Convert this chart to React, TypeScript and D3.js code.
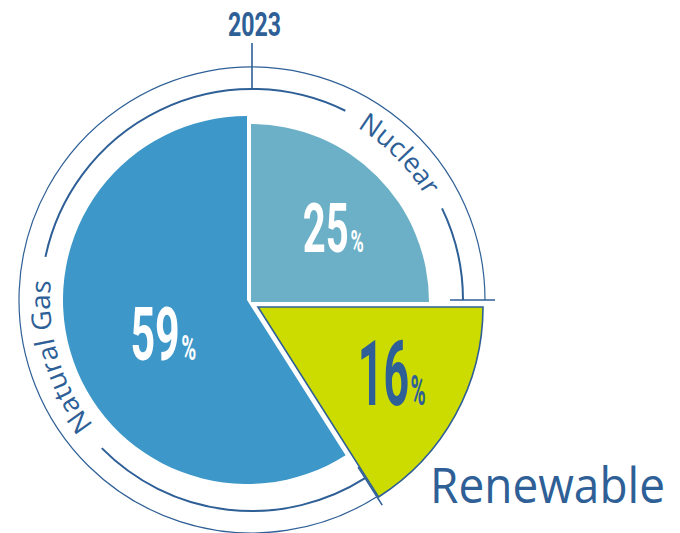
// App.tsx
// @ts-nocheck
import * as d3 from "d3";
import React from "react";

const categories = ["Nuclear", "Renewable", "Natural Gas"];
const shares = [25, 16, 59];
const yearLabel = "2023";

const W = 680;
const H = 533;
const DARK = "#2e5f96";
const C = { x: 249, y: 301 }; // pie centre
const RC = { x: 252, y: 300 }; // ring centre
const R_IN = 211;
const R_OUT = 233;
const deg = Math.PI / 180;

// per-slice look (radius, explode offset, label placement)
const sliceStyle = {
  Nuclear: { fill: "#6bb0c7", r: 178, off: [2, 1], lr: 111, da: 2.9, size: 69, gw: 61, pct: 31, color: "#fff" },
  Renewable: { fill: "#cddc00", r: 225, off: [9, 6], stroke: DARK, lr: 149, da: -2.7, size: 91, gw: 68, pct: 42, color: DARK },
  "Natural Gas": { fill: "#3d97c9", r: 184, off: [-2, -1], lr: 90, da: -5.5, size: 74, gw: 66, pct: 35, color: "#fff" },
};

// curved labels in the ring: centre angle and half gap
const ringLabels = [
  { name: categories[0], mid: 45.25 * deg, half: 19 * deg, len: 98 },
  { name: categories[2], mid: 253.6 * deg, half: 28.2 * deg, len: 154 },
];

const polar = (cx, cy, r, a) => [cx + r * Math.sin(a), cy - r * Math.cos(a)];

function arcPath(r, a0, a1) {
  const p = d3.path();
  p.arc(RC.x, RC.y, r, a0 - Math.PI / 2, a1 - Math.PI / 2, false);
  return p.toString();
}

export default function App() {
  const pie = d3.pie<number>().sort(null).startAngle(0).endAngle(2 * Math.PI)(shares);
  const arc = d3.arc();

  const bNucRen = pie[0].endAngle;
  const bRenGas = pie[1].endAngle;
  const nuc = ringLabels[0];
  const gas = ringLabels[1];

  const innerSegs = [
    [bRenGas, gas.mid - gas.half],
    [gas.mid + gas.half, 2 * Math.PI + nuc.mid - nuc.half],
    [nuc.mid + nuc.half, bNucRen],
  ];

  const ticks = [
    { a: 0, r0: R_IN, r1: 257 },
    { a: bNucRen, r0: 198, r1: 243 },
    { a: bRenGas, r0: 198, r1: 243 },
  ];

  const rb = 202; // baseline radius of the curved labels

  return (
    <svg width={W} height={H} style={{ position: "absolute", left: 0, top: 0, display: "block" }}>
      <rect width={W} height={H} fill="#fff" />
      <defs>
        {ringLabels.map((l, i) => (
          <path key={i} id={`ring-lbl-${i}`} d={arcPath(rb, l.mid - 40 * deg, l.mid + 40 * deg)} fill="none" />
        ))}
      </defs>

      {/* rings */}
      <path d={arcPath(R_OUT, bRenGas, 2 * Math.PI + bNucRen)} fill="none" stroke={DARK} strokeWidth={1.2} />
      {innerSegs.map((s, i) => (
        <path key={i} d={arcPath(R_IN, s[0], s[1])} fill="none" stroke={DARK} strokeWidth={2} />
      ))}

      {/* slices */}
      {pie.map((d, i) => {
        const st = sliceStyle[categories[i]];
        const path = arc({ innerRadius: 0, outerRadius: st.r, startAngle: d.startAngle, endAngle: d.endAngle });
        return (
          <path
            key={categories[i]}
            d={path}
            transform={`translate(${C.x + st.off[0]},${C.y + st.off[1]})`}
            fill={st.fill}
            stroke={st.stroke || "none"}
            strokeWidth={st.stroke ? 1.6 : 0}
          />
        );
      })}

      {/* ticks */}
      {ticks.map((t, i) => {
        const [x0, y0] = polar(RC.x, RC.y, t.r0, t.a);
        const [x1, y1] = polar(RC.x, RC.y, t.r1, t.a);
        return <line key={i} x1={x0} y1={y0} x2={x1} y2={y1} stroke={DARK} strokeWidth={1.6} />;
      })}

      {/* percentage labels */}
      {pie.map((d, i) => {
        const st = sliceStyle[categories[i]];
        const mid = (d.startAngle + d.endAngle) / 2 + st.da * deg;
        const [gx, gy] = polar(C.x + st.off[0], C.y + st.off[1], st.lr, mid);
        const base = gy + (st.size * 0.711) / 2;
        return (
          <text
            key={categories[i]}
            x={gx - st.gw / 2}
            y={base}
            fill={st.color}
            fontFamily="Roboto, 'DejaVu Sans', sans-serif"
            fontWeight={700}
            textLength={st.gw}
            lengthAdjust="spacingAndGlyphs"
          >
            <tspan fontSize={st.size}>{shares[i]}</tspan>
            <tspan fontSize={st.pct} dx={3}>%</tspan>
          </text>
        );
      })}

      {/* curved category labels */}
      {ringLabels.map((l, i) => (
        <text key={i} fill={DARK} fontFamily="'Open Sans', sans-serif" fontSize={27}>
          <textPath href={`#ring-lbl-${i}`} startOffset="50%" textAnchor="middle" textLength={l.len} lengthAdjust="spacingAndGlyphs">
            {l.name}
          </textPath>
        </text>
      ))}

      {/* year */}
      <text
        x={RC.x + 2.5}
        y={36}
        textAnchor="middle"
        fill={DARK}
        fontFamily="Roboto, sans-serif"
        fontWeight={700}
        fontSize={34}
        textLength={53}
        lengthAdjust="spacingAndGlyphs"
      >
        {yearLabel}
      </text>

      {/* Renewable caption */}
      <text
        x={430}
        y={503}
        fill={DARK}
        fontFamily="'Open Sans', sans-serif"
        fontSize={49}
        textLength={235}
        lengthAdjust="spacingAndGlyphs"
      >
        {categories[1]}
      </text>
    </svg>
  );
}
